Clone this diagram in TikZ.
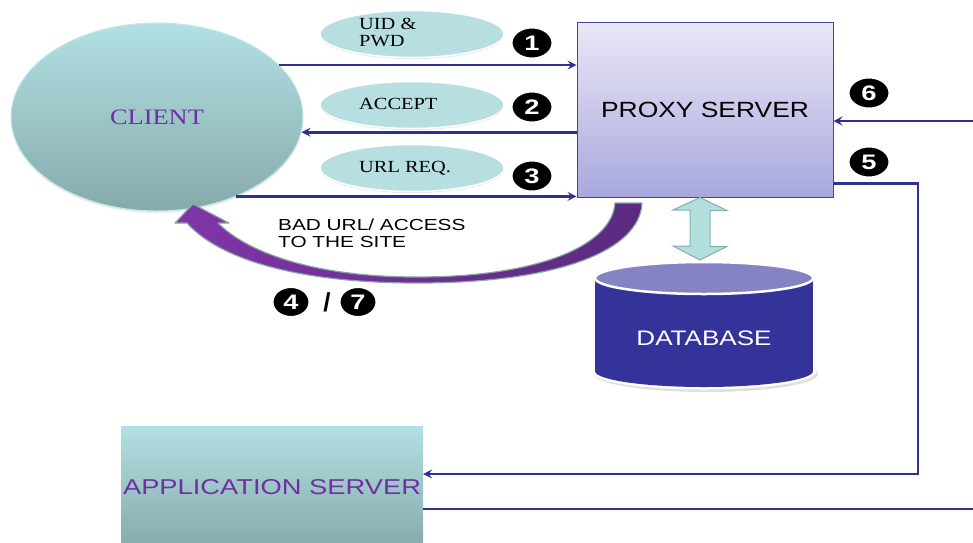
\documentclass[tikz,border=0pt]{standalone}
\usepackage{fontspec}
\setmainfont{Liberation Serif}
\setsansfont{Liberation Sans}
\usetikzlibrary{shapes.geometric,arrows.meta,calc,shadows}
\definecolor{arrblue}{HTML}{2E3192}
\definecolor{clienttop}{HTML}{B2E0E4}
\definecolor{clientbot}{HTML}{86AAAA}
\definecolor{clientedge}{HTML}{C6E6E8}
\definecolor{lblfill}{HTML}{B7DFE2}
\definecolor{proxytop}{HTML}{EAE8F7}
\definecolor{proxybot}{HTML}{A8A8DE}
\definecolor{proxyedge}{HTML}{4343A3}
\definecolor{dbbody}{HTML}{333399}
\definecolor{dbtopc}{HTML}{8583C3}
\definecolor{purpL}{HTML}{8035A8}
\definecolor{purpR}{HTML}{5A2A80}
\definecolor{purpedge}{HTML}{8AA6A6}
\definecolor{dblfill}{HTML}{B2DEDE}
\definecolor{dbledge}{HTML}{86AEAE}
\definecolor{txtpurple}{HTML}{7030A0}
\newcommand{\stretchtxt}[2][1.2]{\scalebox{#1}[1]{#2}}
\newcommand{\stretchnum}[1]{\scalebox{1.3}[1]{#1}}
\begin{document}
\begin{tikzpicture}[x=1pt,y=-1pt,
  conn/.style={draw=arrblue,line width=2.6pt},
  arr/.style={conn,-{Stealth[length=9pt,width=9pt,inset=3.5pt]}},
  lblell/.style={ellipse,fill=lblfill,draw=white,line width=1.5pt,minimum width=184pt,minimum height=47pt,
    drop shadow={opacity=0.2,shadow xshift=0pt,shadow yshift=-1.5pt}},
  lbltxt/.style={font=\fontsize{17}{18}\selectfont,align=left,inner sep=0pt},
  numc/.style={ellipse,fill=black,draw=white,line width=3pt,minimum width=42pt,minimum height=32pt,inner sep=0pt,
    text=white,font=\sffamily\bfseries\fontsize{21}{21}\selectfont,
    drop shadow={opacity=0.25,shadow xshift=0pt,shadow yshift=-1.5pt}},
  numsm/.style={numc,minimum width=38pt,minimum height=31pt},
  grad/.style={top color=clienttop,bottom color=clientbot},
  dblarr/.style={fill=dblfill,draw=dbledge,line width=1pt,line join=miter},
]
\clip (0,0) rectangle (973,542);
\fill[white] (0,0) rectangle (973,542);

% client
\node[ellipse,minimum width=292pt,minimum height=188pt,grad,draw=clientedge,line width=1pt,
  drop shadow={opacity=0.15,shadow xshift=0pt,shadow yshift=-2pt},
  text=txtpurple,font=\fontsize{22}{24}\selectfont] (client) at (157,117) {\stretchtxt{CLIENT}};

% proxy
\node[rectangle,minimum width=256pt,minimum height=175pt,top color=proxytop,bottom color=proxybot,
  draw=proxyedge,line width=1pt,font=\sffamily\fontsize{22}{24}\selectfont] (proxy) at (705,109.5) {\stretchtxt{PROXY SERVER}};

% application server
\node[rectangle,minimum width=302pt,minimum height=122pt,grad,inner sep=0pt,
  text=txtpurple,font=\sffamily\fontsize{21.5}{24}\selectfont] (app) at (272,487) {\stretchtxt[1.27]{APPLICATION SERVER}};

% database
\fill[black!12] (706,374) ellipse (112 and 18);
\draw[white,line width=5pt] (704,371) ellipse (109 and 16);
\draw[white,line width=5pt] (595,278) rectangle (813,371);
\fill[dbbody] (704,371) ellipse (109 and 16);
\fill[dbbody] (595,278) rectangle (813,371);
\filldraw[fill=dbtopc,draw=white,line width=2.5pt] (704,278) ellipse (109 and 16);
\node[text=white,font=\sffamily\fontsize{21}{24}\selectfont] (db) at (704,338) {\stretchtxt[1.24]{DATABASE}};
\coordinate (dbtop) at (700,260);

% double arrow proxy <-> database
\draw[dblarr] ($(proxy.south)+(-5,0)$) -- ++(27,13) -- ++(-17,0) -- ++(0,36) -- ++(17,0)
  -- (dbtop) -- ++(-27,-14) -- ++(17,0) -- ++(0,-36) -- ++(-17,0) -- cycle;

% connectors client <-> proxy
\draw[arr] (client.23) -- (client.23 -| proxy.west);
\draw[arr] (proxy.west |- client.-6.3) -- (client.-6.3);
\draw[arr] (client.-45) -- (client.-45 -| proxy.west);

% proxy <-> app server / outside
\coordinate (r6) at (973,121);
\draw[arr] (r6) -- (r6 -| proxy.east);
\coordinate (c5) at (918,474);
\draw[arr] ($(proxy.south east)+(0,-14)$) -| (c5) -- (c5 -| app.east);
\coordinate (r7) at (973,509);
\draw[conn] (r7 -| app.east) -- (r7);

% label ellipses
\node[lblell] (e1) at (412,34) {};
\node[lblell] (e2) at (412,105) {};
\node[lblell] (e3) at (412,168) {};
\node[lbltxt,anchor=west] (t1) at (359,34) {\stretchtxt{\begin{tabular}{@{}l@{}}UID \&\\[-1pt]PWD\end{tabular}}};
\node[lbltxt,anchor=west] (t2) at (359,104) {\stretchtxt{ACCEPT}};
\node[lbltxt,anchor=west] (t3) at (359,168) {\stretchtxt{URL REQ.}};

% purple curved arrow proxy -> client
\path[draw=purpedge,line width=1.2pt,left color=purpL,right color=purpR,line join=round]
  (642,203) .. controls (640,250) and (560,283) .. (417,283)
  .. controls (300,283) and (220,260) .. (187,223)
  -- (175,223) -- (193,204) -- (229,223) -- (218,223)
  .. controls (250,255) and (320,277) .. (417,277)
  .. controls (540,277) and (612,245) .. (615,203) -- cycle;
\node[anchor=west,align=left,inner sep=0pt,font=\sffamily\fontsize{16}{18}\selectfont] (bad) at (278,235)
  {\stretchtxt[1.3]{\begin{tabular}{@{}l@{}}BAD URL/ ACCESS\\[-1pt]TO THE SITE\end{tabular}}};

% numbers
\node[numc] (n1) at (532,43) {\stretchnum{1}};
\node[numc] (n2) at (532,107) {\stretchnum{2}};
\node[numc] (n3) at (532,176) {\stretchnum{3}};
\node[numc] (n6) at (869,93) {\stretchnum{6}};
\node[numc] (n5) at (869,162) {\stretchnum{5}};
\node[numsm] (n4) at (291,302) {\stretchnum{4}};
\node[numsm] (n7) at (358,302) {\stretchnum{7}};
\node[font=\sffamily\bfseries\fontsize{26}{26}\selectfont,inner sep=0pt] (sl) at (327,302) {/};
\end{tikzpicture}
\end{document}
